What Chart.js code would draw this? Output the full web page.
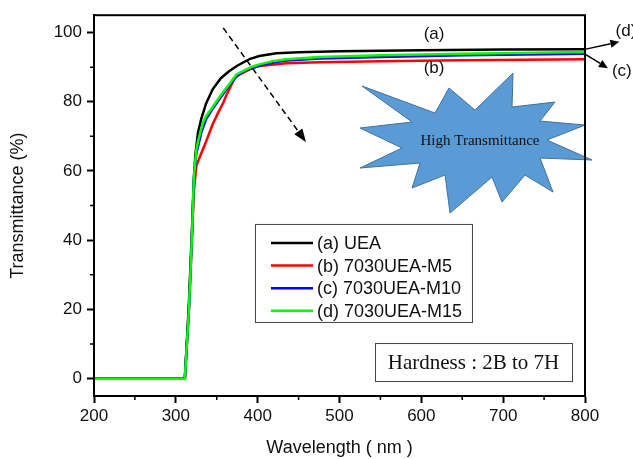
<!DOCTYPE html>
<html>
<head>
<meta charset="utf-8">
<script src="https://cdn.jsdelivr.net/npm/chart.js@4"></script>
<style>
  html, body { margin: 0; padding: 0; background: #fff; }
  #wrap { width: 633px; height: 459px; }
</style>
</head>
<body>
<div id="wrap"><canvas id="myChart" width="633" height="459"></canvas></div>
<script>
// (a) UEA
const wlA = [200, 311, 316, 320, 322, 324, 327, 331, 337, 345, 355, 365, 375, 390, 402, 423, 450, 500, 600, 700, 800];
const tA = [0, 0, 22, 45, 58, 65, 71, 75, 79.5, 83.6, 86.8, 88.8, 90.4, 92.3, 93.2, 94, 94.3, 94.6, 94.9, 95.1, 95.2];
// (b) 7030UEA-M5
const wlB = [200, 311, 316, 320, 322, 325, 330, 337, 341, 345, 352, 358, 362, 372, 378, 394, 402, 435, 476, 550, 650, 800];
const tB = [0, 0, 20, 42, 54, 61.4, 64.5, 68.5, 71, 73.5, 77, 79.7, 82, 86.9, 87.9, 89.8, 90.3, 91.1, 91.4, 91.7, 92, 92.3];
// (c) 7030UEA-M10
const wlC = [200, 311, 316, 320, 322, 325, 331, 337, 345, 354, 365, 374, 385, 402, 420, 435, 476, 550, 650, 800];
const tC = [0, 0, 20, 43, 57, 65, 71, 75, 78, 81, 84.6, 87.4, 89.1, 90.4, 91.4, 91.9, 92.5, 92.9, 93.4, 93.9];
// (d) 7030UEA-M15
const wlD = [200, 311, 316, 320, 322, 325, 327, 333, 337, 345, 354, 365, 374, 385, 394, 402, 420, 435, 476, 550, 650, 800];
const tD = [0, 0, 20, 43, 58, 66, 68.5, 73.9, 75.9, 78.5, 81.6, 85, 87.9, 89.2, 90.2, 90.8, 91.8, 92.3, 92.9, 93.4, 93.9, 94.4];

const labels = ["(a) UEA", "(b) 7030UEA-M5", "(c) 7030UEA-M10", "(d) 7030UEA-M15"];
const colors = ["#000000", "#ff0000", "#0000ff", "#00ff00"];
const xTicks = [200, 300, 400, 500, 600, 700, 800];
const yTicks = [0, 20, 40, 60, 80, 100];

const pts = (xs, ys) => xs.map((x, i) => ({ x: x, y: ys[i] }));

const sans = "'Liberation Sans', Arial, sans-serif";
const serif = "'Liberation Serif', 'Times New Roman', serif";

function arrow(ctx, x1, y1, x2, y2, hl, hw, dash) {
  const a = Math.atan2(y2 - y1, x2 - x1);
  const bx = x2 - hl * Math.cos(a), by = y2 - hl * Math.sin(a);
  ctx.save();
  ctx.strokeStyle = "#000";
  ctx.fillStyle = "#000";
  ctx.lineWidth = 1.5;
  if (dash) ctx.setLineDash(dash);
  ctx.beginPath();
  ctx.moveTo(x1, y1);
  ctx.lineTo(bx, by);
  ctx.stroke();
  ctx.setLineDash([]);
  ctx.beginPath();
  ctx.moveTo(x2, y2);
  ctx.lineTo(bx + hw * Math.sin(a), by - hw * Math.cos(a));
  ctx.lineTo(bx - hw * Math.sin(a), by + hw * Math.cos(a));
  ctx.closePath();
  ctx.fill();
  ctx.restore();
}

// star outline, px offsets from its centre
const star = [[-113, -59], [-40, -32], [-26, -57], [0, -35], [38, -72], [37, -38], [80, -43], [65, -24],
  [110, -20], [72, -5], [117, 15], [65, 13], [78, 47], [50, 30], [27, 57], [17, 32], [-25, 68], [-30, 30],
  [-63, 43], [-55, 18], [-115, 23], [-73, 3], [-115, -17], [-63, -23]];

const extras = {
  id: "extras",
  afterDatasetsDraw(chart) {
    const ctx = chart.ctx;
    const xs = chart.scales.x, ys = chart.scales.y;
    const X = (v) => xs.getPixelForValue(v), Y = (v) => ys.getPixelForValue(v);
    const area = chart.chartArea;

    // star
    const cx = X(665.6), cy = Y(67.5);
    ctx.save();
    ctx.beginPath();
    star.forEach((p, i) => i ? ctx.lineTo(cx + p[0], cy + p[1]) : ctx.moveTo(cx + p[0], cy + p[1]));
    ctx.closePath();
    ctx.fillStyle = "#5b9bd5";
    ctx.fill();
    ctx.strokeStyle = "#41719c";
    ctx.lineWidth = 1;
    ctx.stroke();
    ctx.fillStyle = "#111";
    ctx.font = "15px " + serif;
    ctx.textAlign = "center";
    ctx.textBaseline = "middle";
    ctx.fillText("High Transmittance", cx + 5, cy - 4);
    ctx.restore();

    // frame
    ctx.save();
    ctx.strokeStyle = "#000";
    ctx.lineWidth = 2;
    ctx.strokeRect(area.left, area.top, area.right - area.left, area.bottom - area.top);

    // minor ticks
    ctx.lineWidth = 1.5;
    ctx.beginPath();
    for (let v = 250; v < 800; v += 100) {
      ctx.moveTo(X(v), area.bottom);
      ctx.lineTo(X(v), area.bottom + 4);
    }
    for (let v = 10; v < 100; v += 20) {
      ctx.moveTo(area.left, Y(v));
      ctx.lineTo(area.left - 4, Y(v));
    }
    ctx.stroke();
    ctx.restore();

    // dashed arrow
    arrow(ctx, X(358), Y(101.3), X(459), Y(68.4), 13, 5, [6, 4]);
    // (d) and (c) pointers
    arrow(ctx, X(801), Y(95.2), X(842), Y(97.3), 9, 4);
    arrow(ctx, X(801), Y(93.6), X(828), Y(89.7), 9, 4);

    ctx.save();
    ctx.fillStyle = "#111";
    ctx.font = "17px " + sans;
    ctx.textAlign = "center";
    ctx.textBaseline = "middle";
    ctx.fillText("(a)", X(615.5), Y(99.4));
    ctx.fillText("(b)", X(615.5), Y(89.6));
    ctx.fillText("(d)", X(850), Y(100.4));
    ctx.fillText("(c)", X(845), Y(88.8));
    ctx.restore();

    // legend box
    const lx = X(396.7), ly = Y(44.7), lw = 217, lh = 98;
    ctx.save();
    ctx.fillStyle = "#fff";
    ctx.fillRect(lx, ly, lw, lh);
    ctx.strokeStyle = "#444";
    ctx.lineWidth = 1;
    ctx.strokeRect(lx + 0.5, ly + 0.5, lw, lh);
    ctx.font = "18px " + sans;
    ctx.textBaseline = "middle";
    ctx.textAlign = "left";
    labels.forEach((t, i) => {
      const yy = ly + 19 + i * 22.6;
      ctx.strokeStyle = colors[i];
      ctx.lineWidth = 2.5;
      ctx.beginPath();
      ctx.moveTo(lx + 16, yy);
      ctx.lineTo(lx + 58, yy);
      ctx.stroke();
      ctx.fillStyle = "#111";
      ctx.fillText(t, lx + 62, yy + 1);
    });
    ctx.restore();

    // hardness box
    const hx = X(543.4), hy = Y(10.3), hw = 197, hh = 38;
    ctx.save();
    ctx.fillStyle = "#fff";
    ctx.fillRect(hx, hy, hw, hh);
    ctx.strokeStyle = "#444";
    ctx.lineWidth = 1;
    ctx.strokeRect(hx + 0.5, hy + 0.5, hw, hh);
    ctx.fillStyle = "#111";
    ctx.font = "21px " + serif;
    ctx.textAlign = "center";
    ctx.textBaseline = "middle";
    ctx.fillText("Hardness : 2B to 7H", hx + hw / 2, hy + hh / 2 + 1);
    ctx.restore();
  }
};

const ctx = document.getElementById("myChart");

new Chart(ctx, {
  type: "line",
  data: {
    datasets: [
      { label: labels[0], data: pts(wlA, tA), borderColor: colors[0], order: 3 },
      { label: labels[1], data: pts(wlB, tB), borderColor: colors[1], order: 2 },
      { label: labels[2], data: pts(wlC, tC), borderColor: colors[2], order: 1 },
      { label: labels[3], data: pts(wlD, tD), borderColor: colors[3], order: 0 },
    ],
  },
  options: {
    responsive: false,
    animation: false,
    events: [],
    layout: { padding: { left: 0, right: 48, top: 15, bottom: 0 } },
    elements: {
      point: { radius: 0 },
      line: { borderWidth: 2.5, tension: 0, fill: false },
    },
    plugins: { legend: { display: false }, tooltip: { enabled: false } },
    scales: {
      x: {
        type: "linear",
        min: 200,
        max: 800,
        afterFit: (s) => { s.height = 63; },
        afterBuildTicks: (s) => { s.ticks = xTicks.map((v) => ({ value: v })); },
        border: { color: "#000", width: 2 },
        grid: { drawOnChartArea: false, drawTicks: true, tickLength: 7, tickColor: "#000", tickWidth: 2 },
        ticks: { color: "#111", font: { family: sans, size: 17 }, padding: 3, maxRotation: 0 },
        title: { display: true, text: "Wavelength ( nm )", color: "#111", font: { family: sans, size: 18 }, padding: { top: 0, bottom: 0 } },
      },
      y: {
        min: -5,
        max: 105,
        afterFit: (s) => { s.width = 94; },
        afterBuildTicks: (s) => { s.ticks = yTicks.map((v) => ({ value: v })); },
        border: { color: "#000", width: 2 },
        grid: { drawOnChartArea: false, drawTicks: true, tickLength: 7, tickColor: "#000", tickWidth: 2 },
        ticks: { color: "#111", font: { family: sans, size: 17 }, padding: 5 },
        title: { display: true, text: "Transmittance (%)", color: "#111", font: { family: sans, size: 18 }, padding: { top: 7, bottom: 0 } },
      },
    },
  },
  plugins: [extras],
});
</script>
</body>
</html>
